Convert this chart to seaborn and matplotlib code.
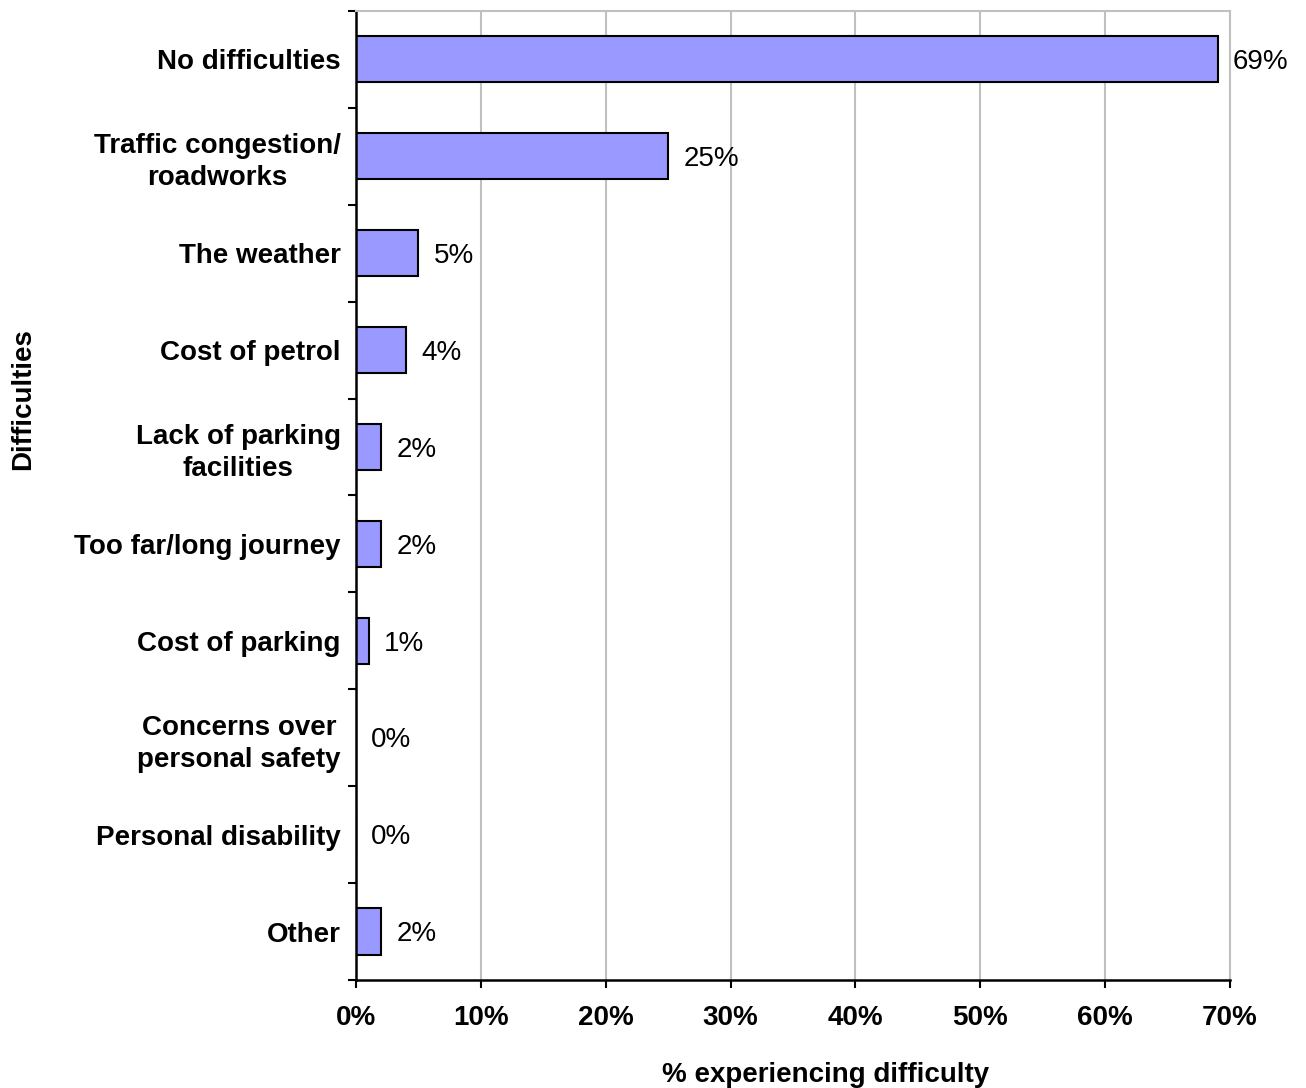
import matplotlib
matplotlib.use("Agg")
import matplotlib.pyplot as plt
from matplotlib.ticker import FixedLocator
import seaborn as sns
import pandas as pd
import numpy as np

categories = [
    "No difficulties",
    "Traffic congestion/\nroadworks",
    "The weather",
    "Cost of petrol",
    "Lack of parking\nfacilities",
    "Too far/long journey",
    "Cost of parking",
    "Concerns over\npersonal safety",
    "Personal disability",
    "Other",
]
values = [69, 25, 5, 4, 2, 2, 1, 0, 0, 2]
x_ticks = [0, 10, 20, 30, 40, 50, 60, 70]

df = pd.DataFrame({"category": categories, "value": values})

sns.set_theme(style="white")
plt.rcParams["font.family"] = ["Liberation Sans", "DejaVu Sans"]
plt.rcParams.update({
    "text.color": "black",
    "axes.labelcolor": "black",
    "xtick.color": "black",
    "ytick.color": "black",
})

fig = plt.figure(figsize=(13.06, 10.88), dpi=100)
ax = fig.add_axes([0.2726, 0.0993, 0.9418 - 0.2726, 0.9899 - 0.0993])

sns.barplot(data=df, x="value", y="category", orient="h", color="#9999FF",
            saturation=1, width=0.475, edgecolor="black", linewidth=1.5, ax=ax)

ax.set_xlim(0, 70)
ax.set_ylim(len(categories) - 0.5, -0.5)

# vertical gridlines
ax.set_xticks(x_ticks)
ax.set_xticklabels([f"{t}%" for t in x_ticks], fontsize=20, fontweight="bold")
ax.xaxis.grid(True, color="#C0C0C0", linewidth=1.5)
ax.set_axisbelow(True)

# category labels at band centres, tick marks at band boundaries
ax.set_yticks(range(len(categories)))
ax.set_yticklabels(categories, fontsize=20, fontweight="bold",
                   multialignment="center", linespacing=1.3)
ax.yaxis.set_minor_locator(FixedLocator(np.arange(-0.5, len(categories), 1)))
ax.tick_params(axis="y", which="major", length=0, pad=11)
ax.tick_params(axis="y", which="minor", length=6, width=1.5, color="black", left=True)
ax.tick_params(axis="x", which="major", length=6, width=1.5, color="black",
               bottom=True, pad=12)

for side in ("left", "bottom"):
    ax.spines[side].set_color("black")
    ax.spines[side].set_linewidth(1.8)
for side in ("top", "right"):
    ax.spines[side].set_color("#C0C0C0")
    ax.spines[side].set_linewidth(1.5)

ax.set_xlabel("% experiencing difficulty", fontsize=20, fontweight="bold")
ax.xaxis.set_label_coords(0.537, -0.085)
ax.set_ylabel("Difficulties", fontsize=20, fontweight="bold")
ax.yaxis.set_label_coords(-0.366, 0.599)

for i, v in enumerate(values):
    ax.annotate(f"{v}%", xy=(v, i), xytext=(11, -2), textcoords="offset points",
                va="center", ha="left", fontsize=20)

fig.savefig("out.png", dpi=100)
